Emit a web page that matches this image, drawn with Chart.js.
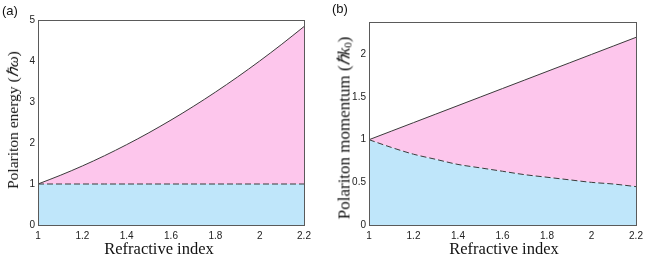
<!DOCTYPE html>
<html lang="en">
	<head>
		<meta charset="UTF-8" />
		<title>Polariton energy and momentum</title>
		<script src="https://cdn.jsdelivr.net/npm/chart.js"></script>
		<style>
			body { margin: 0; background: #fff; }
			#wrap { position: relative; width: 648px; height: 261px; overflow: hidden; }
			canvas { position: absolute; top: 0; }
			.panel { position: absolute; font: 13px 'Liberation Sans', Arial, sans-serif; color: #111; }
			.xtitle, .ytitle { position: absolute; font: 16.5px 'Liberation Serif', 'Times New Roman', serif; color: #111; white-space: nowrap; }
			.ytitle { transform: translate(-50%, -50%) rotate(-90deg); }
			.xtitle { transform: translateX(-50%); }
			sub { font-size: 0.65em; vertical-align: -0.2em; line-height: 0; }
		</style>
	</head>
	<body>
		<div id="wrap">
			<canvas id="chartA" width="324" height="261" style="left:0"></canvas>
			<canvas id="chartB" width="324" height="261" style="left:324px"></canvas>
			<div class="panel" style="left:2px; top:3px">(a)</div>
			<div class="panel" style="left:332px; top:1px">(b)</div>
			<div class="ytitle" style="left:12px; top:120px; font-size:15.5px">Polariton energy (<i>ℏω</i>)</div>
			<div class="ytitle" style="left:343px; top:128px; font-size:17px">Polariton momentum (<i>ℏk</i><sub>0</sub>)</div>
			<div class="xtitle" style="left:159px; top:239px">Refractive index</div>
			<div class="xtitle" style="left:504px; top:239px">Refractive index</div>
		</div>

		<script>
			// refractive index samples
			const index = [1, 1.1, 1.2, 1.3, 1.4, 1.5, 1.6, 1.7, 1.8, 1.9, 2, 2.1, 2.2];
			// (a) energy: upper branch and dashed level
			const energyUpper = [1, 1.21, 1.44, 1.69, 1.96, 2.25, 2.56, 2.89, 3.24, 3.61, 4, 4.41, 4.84];
			const energyLower = [1, 1, 1, 1, 1, 1, 1, 1, 1, 1, 1, 1, 1];
			// (b) momentum: upper line and dashed curve
			const momentumUpper = [1, 1.1, 1.2, 1.3, 1.4, 1.5, 1.6, 1.7, 1.8, 1.9, 2, 2.1, 2.2];
			const momentumLower = [1, 0.91, 0.83, 0.77, 0.71, 0.67, 0.63, 0.59, 0.56, 0.53, 0.5, 0.48, 0.45];

			const xTicks = [1, 1.2, 1.4, 1.6, 1.8, 2, 2.2];
			const yTicksA = [0, 1, 2, 3, 4, 5];
			const yTicksB = [0, 0.5, 1, 1.5, 2];

			const pink = '#fdc6ec';
			const blue = '#bfe6fa';
			const lineColor = '#3a3a3a';
			const tickFont = { family: "'Liberation Sans', Arial, sans-serif", size: 10 };

			const pts = (ys) => index.map((x, i) => ({ x: x, y: ys[i] }));

			const boxPlugin = {
				id: 'box',
				afterDraw(chart) {
					const a = chart.chartArea;
					const c = chart.ctx;
					c.save();
					c.strokeStyle = '#5a5a5a';
					c.lineWidth = 1;
					c.strokeRect(Math.round(a.left) + 0.5, Math.round(a.top) + 0.5,
						Math.round(a.right - a.left), Math.round(a.bottom - a.top));
					c.restore();
				},
			};

			function makeChart(id, upper, lower, yMax, yTicks, yWidth, pad) {
				return new Chart(document.getElementById(id), {
					type: 'line',
					data: {
						datasets: [
							{
								data: pts(lower),
								borderColor: lineColor,
								borderWidth: 1,
								borderDash: [6, 3],
								backgroundColor: blue,
								fill: 'origin',
								pointRadius: 0,
								cubicInterpolationMode: 'monotone',
							},
							{
								data: pts(upper),
								borderColor: lineColor,
								borderWidth: 1,
								backgroundColor: pink,
								fill: '-1',
								pointRadius: 0,
								cubicInterpolationMode: 'monotone',
							},
						],
					},
					options: {
						responsive: false,
						animation: false,
						layout: { padding: pad },
						plugins: { legend: { display: false }, tooltip: { enabled: false } },
						scales: {
							x: {
								type: 'linear',
								min: 1,
								max: 2.2,
								grid: { display: false, drawTicks: false, tickLength: 0 },
								border: { display: false },
								afterBuildTicks: (s) => { s.ticks = xTicks.map((v) => ({ value: v })); },
								afterFit: (s) => { s.height = 36; },
								ticks: {
									font: tickFont,
									color: '#222',
									padding: 5,
									maxRotation: 0,
									callback: (v) => String(v),
								},
							},
							y: {
								min: 0,
								max: yMax,
								grid: { display: false, drawTicks: false, tickLength: 0 },
								border: { display: false },
								afterBuildTicks: (s) => { s.ticks = yTicks.map((v) => ({ value: v })); },
								afterFit: (s) => { s.width = yWidth; },
								ticks: {
									font: tickFont,
									color: '#222',
									padding: 3,
									callback: (v) => String(v),
								},
							},
						},
					},
					plugins: [boxPlugin],
				});
			}

			makeChart('chartA', energyUpper, energyLower, 5, yTicksA, 38, { left: 0, top: 20, right: 20, bottom: 0 });
			makeChart('chartB', momentumUpper, momentumLower, 2.38, yTicksB, 45, { left: 0, top: 22, right: 12, bottom: 0 });
		</script>
	</body>
</html>
